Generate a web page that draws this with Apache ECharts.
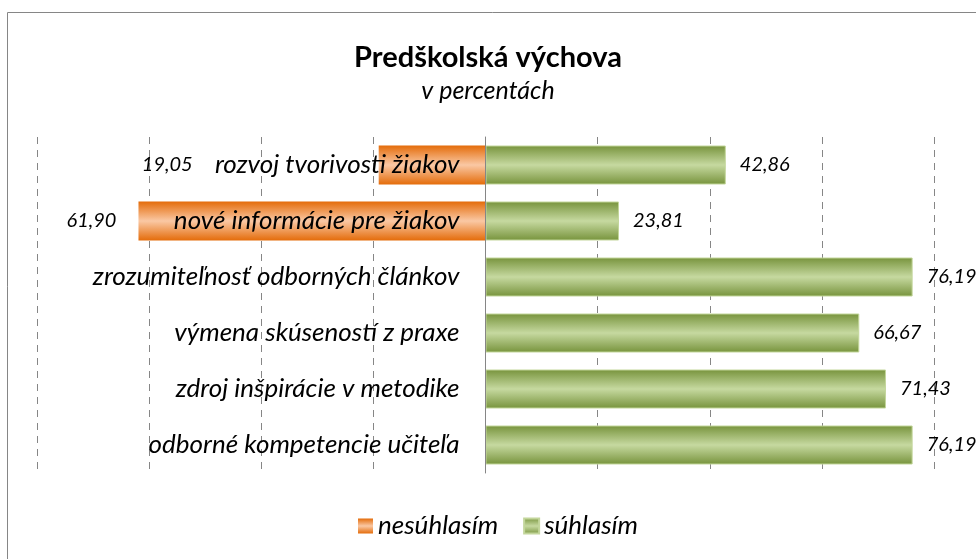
<!DOCTYPE html>
<html>
<head>
<meta charset="utf-8">
<script src="https://cdn.jsdelivr.net/npm/echarts@6/dist/echarts.min.js"></script>
<style>
  html, body { margin: 0; padding: 0; background: #fff; }
  #chart { width: 976px; height: 559px; }
</style>
</head>
<body>
<div id="chart"></div>
<script>
const categories = [
    'rozvoj tvorivosti žiakov',
    'nové informácie pre žiakov',
    'zrozumiteľnosť odborných článkov',
    'výmena skúseností z praxe',
    'zdroj inšpirácie v metodike',
    'odborné kompetencie učiteľa'
];
const disagree = [19.05, 61.90, 0, 0, 0, 0];
const agree = [42.86, 23.81, 76.19, 66.67, 71.43, 76.19];
const seriesNames = ['nesúhlasím', 'súhlasím'];

// the orange labels sit where they were dragged in the original
const disagreeLabelGap = [186, 22, 0, 0, 0, 0];

const FONT = 'Lato';
const GRID_LEFT = 37;
const GRID_RIGHT = 42;
const X_MIN = -80, X_MAX = 80;

function fmt(v) {
    return Math.abs(v).toFixed(2).replace('.', ',');
}

function barGradient(edge, mid) {
    return new echarts.graphic.LinearGradient(0, 0, 0, 1, [
        { offset: 0, color: edge },
        { offset: 0.5, color: mid },
        { offset: 1, color: edge }
    ]);
}

const labelStyle = {
    color: '#000',
    fontFamily: FONT,
    fontStyle: 'italic',
    fontSize: 20
};

const chartDom = document.getElementById('chart');
const myChart = echarts.init(chartDom);

// category axis sits on the zero line, labels included
const plotWidth = chartDom.clientWidth - GRID_LEFT - GRID_RIGHT;
const zeroOffset = plotWidth * (0 - X_MIN) / (X_MAX - X_MIN);

const option = {
    backgroundColor: '#fff',
    animation: false,
    title: {
        text: 'Predškolská výchova',
        subtext: 'v percentách',
        left: 'center',
        top: 38,
        itemGap: 6,
        textStyle: { fontFamily: FONT, fontWeight: 'bold', fontSize: 29, color: '#000' },
        subtextStyle: { fontFamily: FONT, fontStyle: 'italic', fontSize: 25, color: '#000' }
    },
    legend: {
        data: seriesNames,
        left: 353,
        top: 508,
        icon: 'rect',
        itemWidth: 15,
        itemHeight: 15,
        itemGap: 25,
        textStyle: { fontFamily: FONT, fontStyle: 'italic', fontSize: 26, color: '#000' }
    },
    graphic: [{
        type: 'rect',
        shape: { x: 7.5, y: 12.5, width: 1000, height: 1000 },
        style: { fill: 'none', stroke: '#868686', lineWidth: 1 },
        silent: true
    }],
    grid: {
        left: GRID_LEFT, right: GRID_RIGHT, top: 137, bottom: 86,
        outerBoundsMode: 'none'
    },
    xAxis: {
        type: 'value',
        min: X_MIN,
        max: X_MAX,
        interval: 20,
        axisLine: { show: false },
        axisTick: { show: false },
        axisLabel: { show: false },
        splitLine: { lineStyle: { color: '#868686', type: [7, 6], width: 1 } }
    },
    yAxis: {
        type: 'category',
        data: categories,
        inverse: true,
        position: 'left',
        offset: -zeroOffset,
        z: 10,
        axisLine: { onZero: false, lineStyle: { color: '#868686', width: 1 } },
        axisTick: { length: 9, lineStyle: { color: '#868686' } },
        axisLabel: {
            margin: 26,
            color: '#000',
            fontFamily: FONT,
            fontStyle: 'italic',
            fontSize: 26
        }
    },
    series: [{
        name: seriesNames[0],
        type: 'bar',
        stack: 'total',
        barWidth: 39,
        itemStyle: { color: barGradient('#E46C0A', '#FAC8A4') },
        data: disagree.map((v, i) => ({
            value: -v,
            label: {
                show: v > 0,
                position: 'left',
                distance: disagreeLabelGap[i]
            }
        })),
        label: Object.assign({ formatter: p => fmt(p.value) }, labelStyle)
    }, {
        name: seriesNames[1],
        type: 'bar',
        stack: 'total',
        barWidth: 39,
        itemStyle: {
            color: barGradient('#77933C', '#C6D9A0'),
            borderColor: '#C3D69B',
            borderWidth: 1
        },
        data: agree,
        label: Object.assign({
            show: true,
            position: 'right',
            distance: 14,
            formatter: p => fmt(p.value)
        }, labelStyle)
    }]
};

myChart.setOption(option);
</script>
</body>
</html>
